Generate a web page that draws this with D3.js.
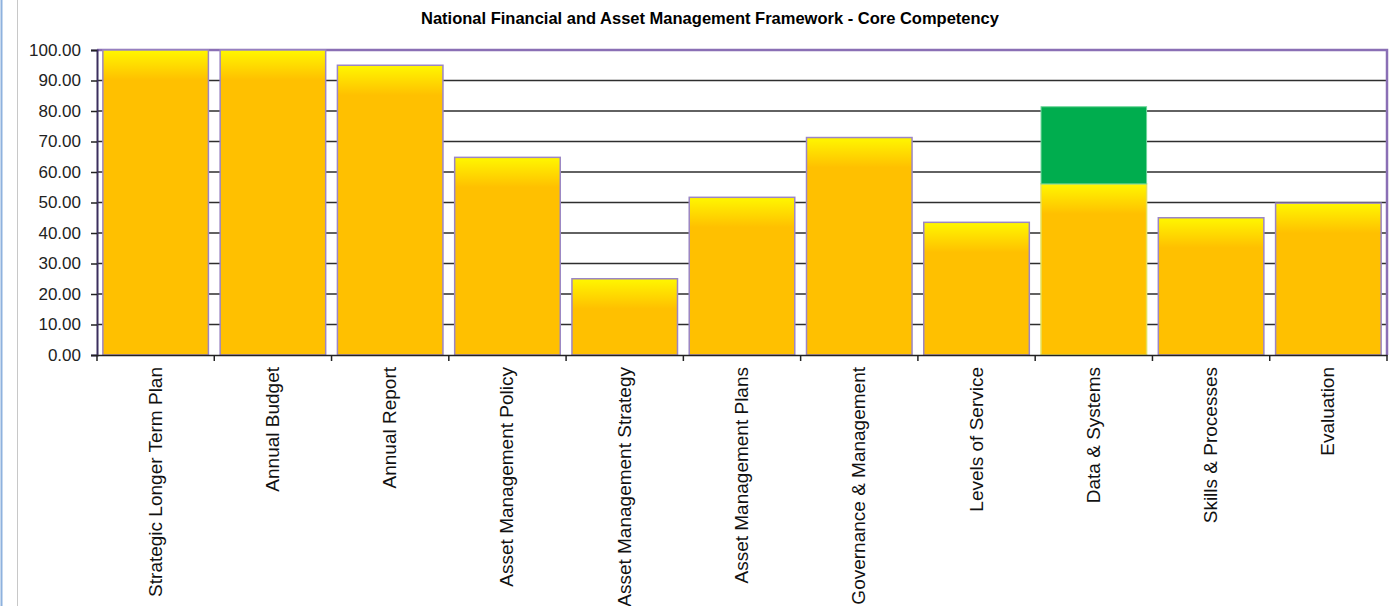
<!DOCTYPE html>
<html>
<head>
<meta charset="utf-8">
<script src="https://cdn.jsdelivr.net/npm/d3@7"></script>
<style>
  body { margin: 0; background: #fff; }
  svg { display: block; font-family: "Liberation Sans", Arial, sans-serif; }
</style>
</head>
<body>
<svg id="chart" width="1400" height="606"></svg>
<script>
// chart data
var categories = ["Strategic Longer Term Plan", "Annual Budget", "Annual Report",
  "Asset Management Policy", "Asset Management Strategy", "Asset Management Plans",
  "Governance & Management", "Levels of Service", "Data & Systems",
  "Skills & Processes", "Evaluation"];
var scores = [100, 100, 95, 64.8, 25, 51.7, 71.3, 43.5, 56.1, 45, 49.8];
var extra = [0, 0, 0, 0, 0, 0, 0, 0, 25.3, 0, 0];
var yTicks = [0, 10, 20, 30, 40, 50, 60, 70, 80, 90, 100];
var title = "National Financial and Asset Management Framework - Core Competency";

var svg = d3.select("#chart");
var plotL = 97, plotR = 1387, plotT = 50, plotB = 355;

var x = d3.scaleBand().domain(categories).range([plotL, plotR]).paddingInner(0.1).paddingOuter(0.05);
var y = d3.scaleLinear().domain([0, 100]).range([plotB, plotT]);

// page frame lines
svg.append("line").attr("x1", 1.5).attr("x2", 1.5).attr("y1", 0).attr("y2", 606)
  .attr("stroke", "#8eb2de").attr("stroke-width", 2);
svg.append("line").attr("x1", 17.5).attr("x2", 17.5).attr("y1", 0).attr("y2", 606)
  .attr("stroke", "#c8c8c8").attr("stroke-width", 1);

svg.append("text").attr("x", 710).attr("y", 24).attr("text-anchor", "middle")
  .style("font-size", "16.5px").style("font-weight", "bold").text(title);

// grid
svg.append("g").selectAll("line").data(yTicks.filter(function(d){ return d > 0 && d < 100; }))
  .enter().append("line")
  .attr("x1", plotL).attr("x2", plotR)
  .attr("y1", function(d){ return y(d); }).attr("y2", function(d){ return y(d); })
  .attr("stroke", "#2e2e2e").attr("stroke-width", 1.7);

// plot border (top + right)
svg.append("path").attr("d", "M" + plotL + "," + plotT + "H" + plotR + "V" + plotB)
  .attr("fill", "none").attr("stroke", "#8a6fb5").attr("stroke-width", 2.5);

var defs = svg.append("defs");
var fade = 30;

categories.forEach(function(c, i) {
  var h = y(0) - y(scores[i]);
  var g = defs.append("linearGradient").attr("id", "grad" + i)
    .attr("x1", 0).attr("x2", 0).attr("y1", 0).attr("y2", 1);
  g.append("stop").attr("offset", 0).attr("stop-color", "#fff700");
  g.append("stop").attr("offset", Math.min(1, fade / h)).attr("stop-color", "#ffc000");
  g.append("stop").attr("offset", 1).attr("stop-color", "#ffc000");
});

var bars = svg.append("g");
bars.selectAll("rect.score").data(scores).enter().append("rect")
  .attr("class", "score")
  .attr("x", function(d, i){ return x(categories[i]); })
  .attr("width", x.bandwidth())
  .attr("y", function(d){ return y(d); })
  .attr("height", function(d){ return y(0) - y(d); })
  .attr("fill", function(d, i){ return "url(#grad" + i + ")"; })
  .attr("stroke", function(d, i){ return extra[i] > 0 ? "#e6e05a" : "#9b86c4"; })
  .attr("stroke-width", 1.5);

bars.selectAll("rect.extra").data(extra).enter().filter(function(d){ return d > 0; })
  .append("rect")
  .attr("class", "extra")
  .attr("x", function(d){ return x(categories[extra.indexOf(d)]); })
  .attr("width", x.bandwidth())
  .attr("y", function(d){ var i = extra.indexOf(d); return y(scores[i] + d); })
  .attr("height", function(d){ var i = extra.indexOf(d); return y(scores[i]) - y(scores[i] + d); })
  .attr("fill", "#00ad4e")
  .attr("stroke", "#6ed69a").attr("stroke-width", 1);

// y axis
var yAxis = svg.append("g").attr("transform", "translate(" + plotL + ",0)")
  .call(d3.axisLeft(y).tickValues(yTicks).tickSize(6).tickPadding(10).tickFormat(d3.format(".2f")));
yAxis.select(".domain").attr("stroke", "#3b2f5e").attr("stroke-width", 2);
yAxis.selectAll(".tick line").attr("stroke", "#222").attr("stroke-width", 1.5);
yAxis.selectAll("text").style("font-size", "17px").attr("fill", "#222");

// x axis
var xAxis = svg.append("g").attr("transform", "translate(0," + plotB + ")")
  .call(d3.axisBottom(x).tickSize(0).tickPadding(0));
xAxis.select(".domain").attr("stroke", "#222").attr("stroke-width", 1.5);
xAxis.selectAll(".tick text")
  .style("font-size", "19px").attr("fill", "#111")
  .attr("text-anchor", "end")
  .attr("transform", "translate(6,12) rotate(-90)")
  .attr("dy", 0).attr("y", 0);
var edges = categories.map(function(c){ return x(c) - x.step() * x.paddingInner() / 2; });
edges.push(plotR);
edges[0] = plotL;
svg.append("g").selectAll("line").data(edges).enter().append("line")
  .attr("x1", function(d){ return d; }).attr("x2", function(d){ return d; })
  .attr("y1", plotB).attr("y2", plotB + 6)
  .attr("stroke", "#222").attr("stroke-width", 1.5);
</script>
</body>
</html>
